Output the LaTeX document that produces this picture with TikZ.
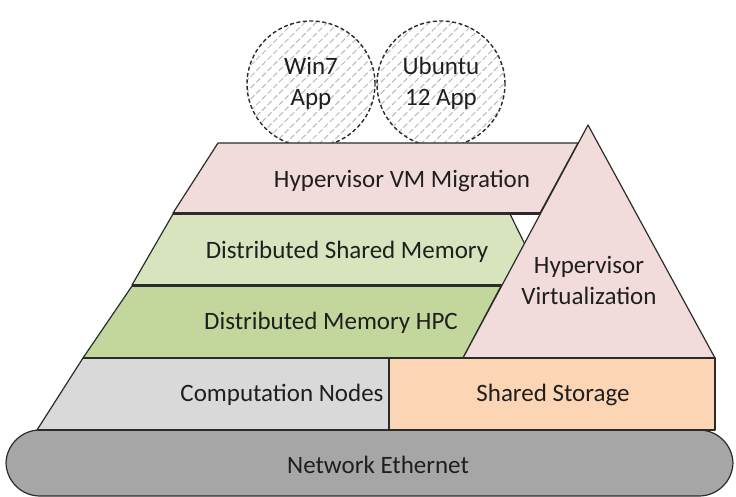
\documentclass[tikz,border=0pt]{standalone}
\usepackage{fontspec}
\setmainfont{Carlito}
\usetikzlibrary{patterns.meta}
\definecolor{slabpink}{HTML}{F2DCDB}
\definecolor{dsmgreen}{HTML}{D7E4BD}
\definecolor{hpcgreen}{HTML}{C3D69B}
\definecolor{compgray}{HTML}{D9D9D9}
\definecolor{storpeach}{HTML}{FCD5B5}
\definecolor{netgray}{HTML}{A6A6A6}
\definecolor{edge}{HTML}{2B2B2B}
\begin{document}
\begin{tikzpicture}[x=1pt,y=-1pt,line join=round,
  lay/.style={draw=edge,line width=1.2pt},
  sepline/.style={draw=edge,line width=2.6pt},
  lbl/.style={font=\fontsize{25}{31}\selectfont,text=black!88,align=center,inner sep=0pt},
  app/.style={draw=edge,dash pattern=on 4pt off 2.5pt,line width=1.4pt,pattern={Lines[angle=45,distance=8pt,line width=1pt]},pattern color=black!28}]
\useasboundingbox (0,0) rectangle (736,497);
% application ellipses
\draw[app] (311,84) ellipse [x radius=64pt,y radius=63pt];
\draw[app] (441,84) ellipse [x radius=64pt,y radius=63pt];
\node[lbl] (win) at (311,83) {Win7\\App};
\node[lbl] (ubu) at (441,83) {Ubuntu\\12 App};
% layers
\draw[lay,fill=slabpink] (218,143) -- (578,143) -- (540,213) -- (173,213) -- cycle;
\draw[lay,fill=dsmgreen] (173,214) -- (510,214) -- (545,285) -- (132,285) -- cycle;
\draw[lay,fill=hpcgreen] (132,286) -- (501,286) -- (463,358) -- (83,358) -- cycle;
\draw[lay,fill=slabpink] (588,125) -- (715,358) -- (463,358) -- cycle;
\draw[lay,fill=compgray] (83,358) -- (389,358) -- (389,430) -- (37,430) -- cycle;
\draw[lay,fill=storpeach] (389,358) rectangle (715,430);
\draw[lay,fill=netgray,rounded corners=34pt] (6,430) rectangle (733,496);
% separator lines
\draw[sepline] (173,213.5) -- (540,213.5);
\draw[sepline] (132,285.5) -- (502,285.5);
\draw[sepline] (83,358) -- (715,358);
\draw[sepline] (37,430) -- (715,430);
% labels
\node[lbl] (mig) at (402,181) {Hypervisor VM Migration};
\node[lbl] (dsm) at (347,252) {Distributed Shared Memory};
\node[lbl] (hpc) at (331,323) {Distributed Memory HPC};
\node[lbl] (virt) at (589,280) {Hypervisor\\Virtualization};
\node[lbl] (comp) at (282,395) {Computation Nodes};
\node[lbl] (stor) at (553,395) {Shared Storage};
\node[lbl] (net) at (378,465) {Network Ethernet};
\end{tikzpicture}
\end{document}
